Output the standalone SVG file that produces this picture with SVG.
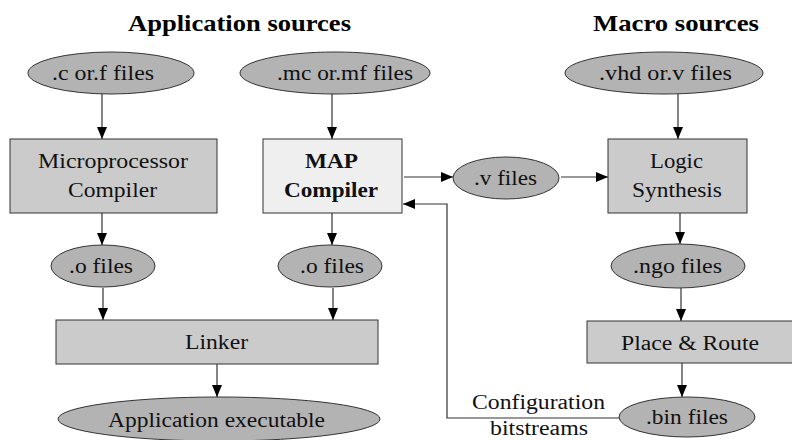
<svg xmlns="http://www.w3.org/2000/svg" width="792" height="440" viewBox="0 0 792 440">
<style>
  text { font-family: 'Liberation Serif', 'DejaVu Serif', 'Times New Roman', serif; }
  .t { font-size: 20px; fill: #111; }
  .b { font-weight: bold; }
  .title { font-size: 23px; font-weight: bold; fill: #000; }
  .ell { fill: #b3b3b3; stroke: #333; stroke-width: 1; }
  .box { fill: #cbcbcb; stroke: #333; stroke-width: 1; }
  .box2 { fill: #efefef; stroke: #333; stroke-width: 1; }
  .c { fill: none; stroke: #333; stroke-width: 1.2; }
</style>
<defs>
  <marker id="ah" markerUnits="userSpaceOnUse" markerWidth="12" markerHeight="12" viewBox="0 0 12 12" refX="12" refY="6" orient="auto">
    <path d="M0,1 L12,6 L0,11 Z" fill="#000"/>
  </marker>
</defs>
<rect width="792" height="440" fill="#fff"/>
<text class="title" x="128" y="31" textLength="223" lengthAdjust="spacingAndGlyphs">Application sources</text>
<text class="title" x="593" y="31" textLength="166" lengthAdjust="spacingAndGlyphs">Macro sources</text>

<g id="connectors">
  <line class="c" x1="102" y1="94" x2="102" y2="139" marker-end="url(#ah)"/>
  <line class="c" x1="332" y1="94" x2="332" y2="139" marker-end="url(#ah)"/>
  <line class="c" x1="678" y1="94" x2="678" y2="139" marker-end="url(#ah)"/>
  <line class="c" x1="404" y1="177" x2="453" y2="177" marker-end="url(#ah)"/>
  <line class="c" x1="561" y1="177" x2="608" y2="177" marker-end="url(#ah)"/>
  <line class="c" x1="102" y1="213" x2="102" y2="245" marker-end="url(#ah)"/>
  <line class="c" x1="332" y1="213" x2="332" y2="245" marker-end="url(#ah)"/>
  <line class="c" x1="680" y1="213" x2="680" y2="244" marker-end="url(#ah)"/>
  <line class="c" x1="103" y1="288" x2="103" y2="320" marker-end="url(#ah)"/>
  <line class="c" x1="333" y1="288" x2="333" y2="320" marker-end="url(#ah)"/>
  <line class="c" x1="681" y1="288" x2="681" y2="321" marker-end="url(#ah)"/>
  <line class="c" x1="217" y1="364" x2="217" y2="397" marker-end="url(#ah)"/>
  <line class="c" x1="682" y1="363" x2="682" y2="397" marker-end="url(#ah)"/>
  <polyline class="c" points="619,418 447,418 447,204 403,204" marker-end="url(#ah)"/>
  <text class="t" x="472" y="409" textLength="133" lengthAdjust="spacingAndGlyphs">Configuration</text>
  <text class="t" x="490" y="435" textLength="98" lengthAdjust="spacingAndGlyphs">bitstreams</text>
</g>

<g id="src-c">
  <ellipse class="ell" cx="111" cy="73" rx="83" ry="21"/>
  <text class="t" x="52" y="80" textLength="102" lengthAdjust="spacingAndGlyphs">.c or.f files</text>
</g>
<g id="src-mc">
  <ellipse class="ell" cx="335" cy="73" rx="95" ry="21"/>
  <text class="t" x="277" y="80" textLength="136" lengthAdjust="spacingAndGlyphs">.mc or.mf files</text>
</g>
<g id="src-vhd">
  <ellipse class="ell" cx="664" cy="73" rx="99" ry="21"/>
  <text class="t" x="599" y="80" textLength="133" lengthAdjust="spacingAndGlyphs">.vhd or.v files</text>
</g>
<g id="micro-compiler">
  <rect class="box" x="10" y="139" width="207" height="74"/>
  <text class="t" x="38" y="168" textLength="150" lengthAdjust="spacingAndGlyphs">Microprocessor</text>
  <text class="t" x="68" y="197" textLength="89" lengthAdjust="spacingAndGlyphs">Compiler</text>
</g>
<g id="map-compiler">
  <rect class="box2" x="263" y="139" width="139" height="74"/>
  <text class="t b" x="305" y="168" textLength="53" lengthAdjust="spacingAndGlyphs">MAP</text>
  <text class="t b" x="284" y="197" textLength="94" lengthAdjust="spacingAndGlyphs">Compiler</text>
</g>
<g id="v-files">
  <ellipse class="ell" cx="506" cy="178" rx="53" ry="21"/>
  <text class="t" x="474" y="185" textLength="63" lengthAdjust="spacingAndGlyphs">.v files</text>
</g>
<g id="logic-synthesis">
  <rect class="box" x="608" y="139" width="139" height="74"/>
  <text class="t" x="650" y="168" textLength="53" lengthAdjust="spacingAndGlyphs">Logic</text>
  <text class="t" x="632" y="197" textLength="90" lengthAdjust="spacingAndGlyphs">Synthesis</text>
</g>
<g id="o-files-1">
  <ellipse class="ell" cx="103" cy="266" rx="52" ry="21"/>
  <text class="t" x="69" y="273" textLength="64" lengthAdjust="spacingAndGlyphs">.o files</text>
</g>
<g id="o-files-2">
  <ellipse class="ell" cx="330" cy="266" rx="52" ry="21"/>
  <text class="t" x="300" y="273" textLength="64" lengthAdjust="spacingAndGlyphs">.o files</text>
</g>
<g id="ngo-files">
  <ellipse class="ell" cx="678" cy="266" rx="67" ry="22"/>
  <text class="t" x="633" y="273" textLength="89" lengthAdjust="spacingAndGlyphs">.ngo files</text>
</g>
<g id="linker">
  <rect class="box" x="56" y="320" width="322" height="44"/>
  <text class="t" x="185" y="349" textLength="63" lengthAdjust="spacingAndGlyphs">Linker</text>
</g>
<g id="place-route">
  <rect class="box" x="587" y="321" width="210" height="42"/>
  <text class="t" x="621" y="350" textLength="138" lengthAdjust="spacingAndGlyphs">Place &amp; Route</text>
</g>
<g id="app-exec">
  <ellipse class="ell" cx="219" cy="419" rx="161" ry="22"/>
  <text class="t" x="108" y="427" textLength="217" lengthAdjust="spacingAndGlyphs">Application executable</text>
</g>
<g id="bin-files">
  <ellipse class="ell" cx="687" cy="417" rx="68" ry="20"/>
  <text class="t" x="646" y="424" textLength="82" lengthAdjust="spacingAndGlyphs">.bin files</text>
</g>
</svg>
